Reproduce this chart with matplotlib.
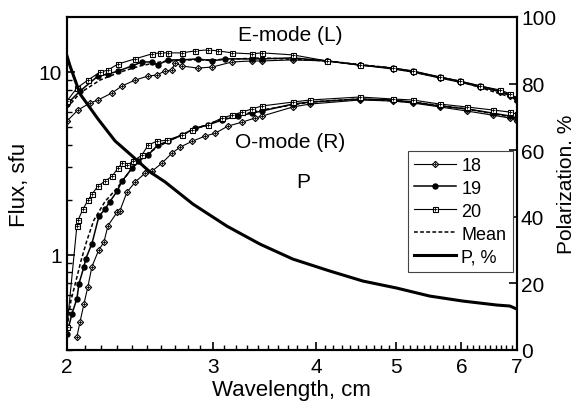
import numpy as np
import matplotlib
matplotlib.use("Agg")
import matplotlib.pyplot as plt
from matplotlib.ticker import FixedLocator, NullFormatter, FixedFormatter

plt.rcParams['font.family'] = ['Liberation Sans', 'DejaVu Sans']

# E-mode (L), flux in sfu
lam_e18 = [2.00, 2.062, 2.133, 2.180, 2.267, 2.331, 2.417, 2.506, 2.567, 2.627, 2.679, 2.700,
           2.755, 2.879, 2.998, 3.166, 3.348, 3.442, 3.752, 4.125, 4.521, 4.956, 5.240, 5.649,
           5.972, 6.315, 6.677, 6.866, 7.0]
flux_e18 = [5.38, 6.19, 6.76, 7.02, 7.67, 8.38, 9.02, 9.49, 9.61, 10.11, 10.24, 11.20,
            10.78, 10.50, 10.64, 11.34, 11.49, 11.49, 11.64, 11.49, 10.91, 10.37, 9.98, 9.25,
            8.78, 8.27, 7.77, 7.39, 6.93]
lam_e19 = [2.00, 2.074, 2.180, 2.242, 2.305, 2.397, 2.464, 2.534, 2.574, 2.648, 2.755, 2.879,
           2.998, 3.104, 3.348, 3.442, 3.752, 4.125, 4.521, 4.956, 5.240, 5.649, 5.972, 6.315,
           6.677, 6.866, 7.0]
flux_e19 = [6.67, 7.86, 9.49, 9.73, 10.11, 10.78, 11.34, 11.34, 10.91, 11.64, 11.64, 11.79,
            11.49, 11.79, 11.79, 11.79, 11.94, 11.49, 10.91, 10.50, 10.11, 9.37, 8.90, 8.38,
            7.86, 7.48, 7.10]
lam_e20 = [2.00, 2.056, 2.120, 2.192, 2.242, 2.305, 2.417, 2.534, 2.591, 2.648, 2.755, 2.857,
           2.961, 3.049, 3.166, 3.348, 3.442, 3.752, 4.125, 4.521, 4.956, 5.240, 5.649, 5.972,
           6.315, 6.677, 6.866, 7.0]
flux_e20 = [6.93, 8.17, 9.02, 9.98, 10.24, 11.05, 11.79, 12.56, 12.72, 12.72, 12.72, 13.04,
            13.21, 13.04, 12.72, 12.56, 12.72, 12.40, 11.49, 10.91, 10.50, 10.11, 9.37, 8.90,
            8.38, 7.97, 7.60, 7.20]
lam_emean = [2.00, 2.074, 2.192, 2.318, 2.450, 2.591, 2.755, 2.998, 3.442, 4.125, 4.956, 5.972, 7.0]
flux_emean = [6.35, 7.67, 9.02, 9.98, 10.78, 11.34, 11.64, 11.64, 11.94, 11.49, 10.50, 8.90, 7.11]

# O-mode (R)
lam_o18 = [2.056, 2.074, 2.097, 2.120, 2.144, 2.186, 2.216, 2.242, 2.299, 2.318, 2.363, 2.417,
           2.484, 2.534, 2.604, 2.679, 2.740, 2.833, 2.937, 3.023, 3.130, 3.258, 3.375, 3.442,
           3.752, 3.934, 4.521, 4.956, 5.240, 5.649, 6.089, 6.543, 6.866, 7.0]
flux_o18 = [0.354, 0.428, 0.538, 0.667, 0.859, 1.065, 1.164, 1.44, 1.70, 1.74, 2.19, 2.49,
            2.78, 2.86, 3.16, 3.59, 3.87, 4.17, 4.45, 4.62, 5.05, 5.31, 5.59, 5.73,
            6.43, 6.67, 7.02, 6.93, 6.76, 6.43, 6.11, 5.80, 5.59, 5.38]
lam_o19 = [2.00, 2.028, 2.056, 2.068, 2.097, 2.108, 2.144, 2.186, 2.223, 2.254, 2.299, 2.331,
           2.397, 2.436, 2.506, 2.574, 2.648, 2.755, 2.857, 2.961, 3.078, 3.220, 3.348, 3.442,
           3.752, 3.934, 4.521, 4.956, 5.240, 5.649, 6.089, 6.543, 6.866, 7.0]
flux_o19 = [0.368, 0.474, 0.573, 0.693, 0.859, 0.951, 1.149, 1.62, 1.77, 1.95, 2.22, 2.52,
            2.97, 3.24, 3.50, 3.97, 4.17, 4.51, 4.93, 5.12, 5.45, 5.73, 5.95, 6.11,
            6.67, 6.84, 7.11, 7.02, 6.84, 6.51, 6.27, 5.95, 5.73, 5.59]
lam_o20 = [2.00, 2.056, 2.062, 2.091, 2.120, 2.144, 2.180, 2.223, 2.267, 2.305, 2.331, 2.363,
           2.403, 2.464, 2.506, 2.567, 2.641, 2.755, 2.833, 2.961, 3.078, 3.166, 3.258, 3.348,
           3.442, 3.752, 3.934, 4.521, 4.956, 5.240, 5.649, 6.089, 6.543, 6.866, 7.0]
flux_o20 = [0.40, 1.44, 1.54, 1.77, 1.98, 2.14, 2.37, 2.52, 2.68, 2.97, 3.16, 3.08,
            3.24, 3.50, 3.97, 4.17, 4.23, 4.51, 4.81, 5.12, 5.59, 5.80, 6.03, 6.27,
            6.51, 6.84, 7.02, 7.29, 7.11, 7.02, 6.67, 6.43, 6.19, 6.03, 5.88]
lam_omean = [2.00, 2.006, 2.022, 2.051, 2.080, 2.114, 2.155, 2.223, 2.299, 2.397, 2.506, 2.648,
             2.857, 3.078, 3.442, 3.934, 4.521, 5.240, 6.089, 7.0]
flux_omean = [0.368, 0.434, 0.559, 0.72, 0.927, 1.194, 1.54, 1.95, 2.31, 2.97, 3.59, 4.17,
              4.87, 5.52, 6.19, 6.84, 7.11, 6.84, 6.27, 5.59]

# polarization degree, %
lam_p = [2.00, 2.017, 2.074, 2.180, 2.286, 2.397, 2.519, 2.627, 2.841, 3.122, 3.423, 3.752,
         4.16, 4.56, 5.01, 5.49, 6.02, 6.62, 6.866, 7.0]
pol_p = [88.3, 85.3, 76.9, 69.4, 62.8, 58.3, 53.5, 50.5, 43.8, 37.2, 31.8, 27.3,
         23.7, 20.7, 18.6, 16.2, 14.7, 13.5, 13.2, 12.3]

fig = plt.figure(figsize=(5.8, 4.06), dpi=100)
ax = fig.add_axes([0.1155, 0.1355, 0.7755, 0.8202])
ax2 = ax.twinx()

sty18 = dict(color='black', lw=0.8, marker='D', ms=3.2, mfc='white', mec='black', mew=0.8)
sty19 = dict(color='black', lw=1.1, marker='o', ms=3.6, mfc='black', mec='black')
sty20 = dict(color='black', lw=0.8, marker='s', ms=3.6, mfc='white', mec='black', mew=0.8)
plus = dict(ls='none', marker='+', ms=3.2, mec='black', mew=0.6)

ax.plot(lam_emean, flux_emean, color='black', lw=1.1, ls=(0, (2.5, 1.5)))
ax.plot(lam_omean, flux_omean, color='black', lw=1.1, ls=(0, (2.5, 1.5)))
l18, = ax.plot(lam_e18, flux_e18, **sty18)
ax.plot(lam_o18, flux_o18, **sty18)
l18p, = ax.plot(lam_e18, flux_e18, **dict(plus, ms=2.2))
ax.plot(lam_o18, flux_o18, **dict(plus, ms=2.2))
l19, = ax.plot(lam_e19, flux_e19, **sty19)
ax.plot(lam_o19, flux_o19, **sty19)
l20, = ax.plot(lam_e20, flux_e20, **sty20)
ax.plot(lam_o20, flux_o20, **sty20)
l20p, = ax.plot(lam_e20, flux_e20, **plus)
ax.plot(lam_o20, flux_o20, **plus)
lmean, = ax.plot([], [], color='black', lw=1.1, ls=(0, (2.5, 1.5)))

lp, = ax2.plot(lam_p, pol_p, color='black', lw=2.2)

ax.set_xscale('log')
ax.set_yscale('log')
ax.set_xlim(2, 7)
ax.set_ylim(0.3, 20)
ax2.set_ylim(0, 100)

ax.xaxis.set_major_locator(FixedLocator([2, 3, 4, 5, 6, 7]))
ax.xaxis.set_major_formatter(FixedFormatter(['2', '3', '4', '5', '6', '7']))
ax.xaxis.set_minor_locator(FixedLocator(np.arange(2.1, 7.0, 0.1)))
ax.xaxis.set_minor_formatter(NullFormatter())
ax.yaxis.set_major_locator(FixedLocator([1, 10]))
ax.yaxis.set_major_formatter(FixedFormatter(['1', '10']))
ax.yaxis.set_minor_locator(FixedLocator([0.3, 0.4, 0.5, 0.6, 0.7, 0.8, 0.9,
                                         2, 3, 4, 5, 6, 7, 8, 9]))
ax.yaxis.set_minor_formatter(NullFormatter())
ax2.set_yticks([0, 20, 40, 60, 80, 100])

for a in (ax, ax2):
    a.tick_params(which='major', direction='in', length=6, width=1.2, labelsize=15)
    a.tick_params(which='minor', direction='in', length=3.5, width=1.0)
    for s in a.spines.values():
        s.set_linewidth(1.5)
ax.tick_params(axis='x', pad=5)
ax2.tick_params(axis='y', pad=3)
ax.tick_params(axis='y', which='both', right=False)
ax.tick_params(axis='x', which='both', top=False)

ax.set_xlabel('Wavelength, cm', fontsize=16, labelpad=2)
ax.set_ylabel('Flux, sfu', fontsize=16, labelpad=6)
ax2.set_ylabel('Polarization. %', fontsize=15, labelpad=1)

ax.text(3.72, 16.0, 'E-mode (L)', fontsize=15, ha='center', va='center')
ax.text(3.72, 4.18, 'O-mode (R)', fontsize=15, ha='center', va='center')
ax.text(3.86, 2.52, 'P', fontsize=15, ha='center', va='center')

leg = ax2.legend([(l18, l18p), l19, (l20, l20p), lmean, lp],
                 ['18', '19', '20', 'Mean', 'P, %'],
                 loc='upper left', bbox_to_anchor=(0.758, 0.599), fontsize=13,
                 frameon=True, fancybox=False, edgecolor='#444444', framealpha=1,
                 handlelength=2.3, handletextpad=0.3, borderpad=0.35,
                 labelspacing=0.33, borderaxespad=0)
leg.get_frame().set_linewidth(0.8)

fig.savefig('out.png', dpi=100)
